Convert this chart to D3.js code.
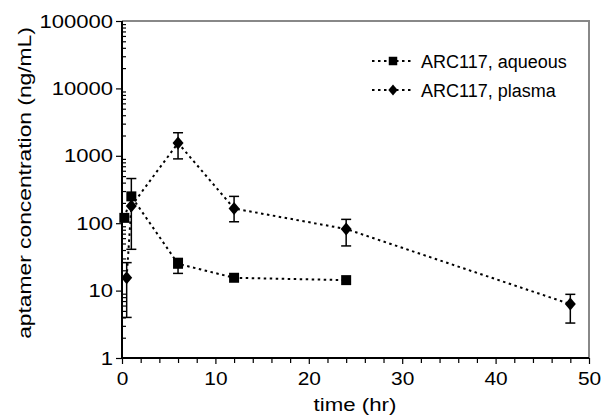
<!DOCTYPE html>
<html>
<head>
<meta charset="utf-8">
<script src="https://cdn.jsdelivr.net/npm/d3@7"></script>
<style>
  body { margin: 0; background: #fff; }
  text { font-family: "Liberation Sans", Arial, sans-serif; fill: #000; }
</style>
</head>
<body>
<svg width="603" height="417"></svg>
<script>
// aqueous humour samples
var aqTime = [0.25, 1, 6, 12, 24];
var aqConc = [120, 250, 25, 15.5, 14.3];
var aqLo   = [null, 41, 18, null, null];
var aqHi   = [null, 460, 30, null, null];

// plasma samples
var plTime = [0.5, 1, 6, 12, 24, 48];
var plConc = [15.5, 180, 1550, 165, 82, 6.3];
var plLo   = [4, null, 900, 105, 46, 3.3];
var plHi   = [26, null, 2200, 250, 114, 8.8];

var seriesNames = ["ARC117, aqueous", "ARC117, plasma"];
var xTicks = [0, 10, 20, 30, 40, 50];
var yTicks = [1, 10, 100, 1000, 10000, 100000];

var svg = d3.select("svg");
var pLeft = 122, pRight = 589, pTop = 21, pBottom = 358;

var x = d3.scaleLinear().domain([0, 50]).range([pLeft, pRight]);
var y = d3.scaleLog().domain([1, 100000]).range([pBottom, pTop]);

// stretch text a bit horizontally like the original
function widen(sel, k) {
  sel.each(function() {
    var w = this.getComputedTextLength();
    d3.select(this).attr("textLength", w * k).attr("lengthAdjust", "spacingAndGlyphs");
  });
}

// frame (top + right in grey)
svg.append("path")
  .attr("d", "M" + pLeft + "," + pTop + "H" + pRight + "V" + pBottom)
  .attr("fill", "none").attr("stroke", "#888").attr("stroke-width", 2);

// minor ticks
var yMinor = [];
for (var p = 0; p < 5; p++) for (var m = 2; m < 10; m++) yMinor.push(m * Math.pow(10, p));
var xMinor = d3.range(0, 51, 2).filter(function(d) { return d % 10 != 0; });

svg.append("g").attr("transform", "translate(" + pLeft + ",0)")
  .call(d3.axisRight(y).tickValues(yMinor).tickSize(4).tickFormat(""))
  .call(function(g) { g.select(".domain").remove(); })
  .selectAll("line").attr("stroke-width", 1.2);

svg.append("g").attr("transform", "translate(0," + pBottom + ")")
  .call(d3.axisBottom(x).tickValues(xMinor).tickSize(5).tickFormat(""))
  .call(function(g) { g.select(".domain").remove(); })
  .selectAll("line").attr("stroke-width", 1.2);

var yAx = svg.append("g").attr("transform", "translate(" + pLeft + ",0)")
  .call(d3.axisLeft(y).tickValues(yTicks).tickSize(6).tickPadding(3).tickFormat(d3.format("d")));
yAx.select(".domain").attr("stroke-width", 2).attr("d", "M0," + pTop + "V" + pBottom);
yAx.selectAll("line").attr("stroke-width", 1.2);
yAx.selectAll("text").attr("font-size", 19).attr("font-family", null);
widen(yAx.selectAll("text"), 1.16);

var xAx = svg.append("g").attr("transform", "translate(0," + pBottom + ")")
  .call(d3.axisBottom(x).tickValues(xTicks).tickSize(6).tickPadding(8));
xAx.select(".domain").attr("stroke-width", 2).attr("d", "M" + pLeft + ",0H" + pRight);
xAx.selectAll("line").attr("stroke-width", 1.2);
xAx.selectAll("text").attr("font-size", 19).attr("font-family", null);
widen(xAx.selectAll("text"), 1.1);

// axis titles
var xt = svg.append("text").attr("x", 355).attr("y", 411)
  .attr("text-anchor", "middle").attr("font-size", 19).text("time (hr)");
widen(xt, 1.17);
var yt = svg.append("text").attr("transform", "translate(31,183) rotate(-90)")
  .attr("text-anchor", "middle").attr("font-size", 19).text("aptamer concentration (ng/mL)");
widen(yt, 1.2);

function rows(t, c, lo, hi) {
  return t.map(function(d, i) { return { t: d, c: c[i], lo: lo[i], hi: hi[i] }; });
}
var aq = rows(aqTime, aqConc, aqLo, aqHi);
var pl = rows(plTime, plConc, plLo, plHi);

var line = d3.line().x(function(d) { return x(d.t); }).y(function(d) { return y(d.c); });

[aq, pl].forEach(function(s) {
  svg.append("path").datum(s).attr("d", line)
    .attr("fill", "none").attr("stroke", "#000")
    .attr("stroke-width", 2).attr("stroke-dasharray", "2.5,3.5");
});

function errBars(s) {
  var g = svg.append("g").attr("stroke", "#000").attr("stroke-width", 1.5);
  s.filter(function(d) { return d.lo != null; }).forEach(function(d) {
    var cx = x(d.t);
    g.append("line").attr("x1", cx).attr("x2", cx).attr("y1", y(d.lo)).attr("y2", y(d.hi));
    g.append("line").attr("x1", cx - 5).attr("x2", cx + 5).attr("y1", y(d.lo)).attr("y2", y(d.lo));
    g.append("line").attr("x1", cx - 5).attr("x2", cx + 5).attr("y1", y(d.hi)).attr("y2", y(d.hi));
  });
}
errBars(aq);
errBars(pl);

var square = "M-5,-5H5V5H-5Z";
var diamond = "M0,-6.5L5.5,0L0,6.5L-5.5,0Z";

svg.append("g").selectAll("path").data(aq).join("path")
  .attr("d", square).attr("fill", "#000")
  .attr("transform", function(d) { return "translate(" + x(d.t) + "," + y(d.c) + ")"; });
svg.append("g").selectAll("path").data(pl).join("path")
  .attr("d", diamond).attr("fill", "#000")
  .attr("transform", function(d) { return "translate(" + x(d.t) + "," + y(d.c) + ")"; });

// legend
var shapes = [square, diamond];
var leg = svg.append("g").selectAll("g").data(seriesNames).join("g")
  .attr("transform", function(d, i) { return "translate(372," + (61 + i * 29) + ")"; });
leg.append("line").attr("x1", 0).attr("x2", 42).attr("stroke", "#000")
  .attr("stroke-width", 2).attr("stroke-dasharray", "2.5,3.5");
leg.append("path").attr("d", function(d, i) { return shapes[i]; })
  .attr("transform", "translate(21,0) scale(0.85)").attr("fill", "#000");
leg.append("text").attr("x", 49).attr("y", 6.5).attr("font-size", 18).text(function(d) { return d; });
</script>
</body>
</html>
